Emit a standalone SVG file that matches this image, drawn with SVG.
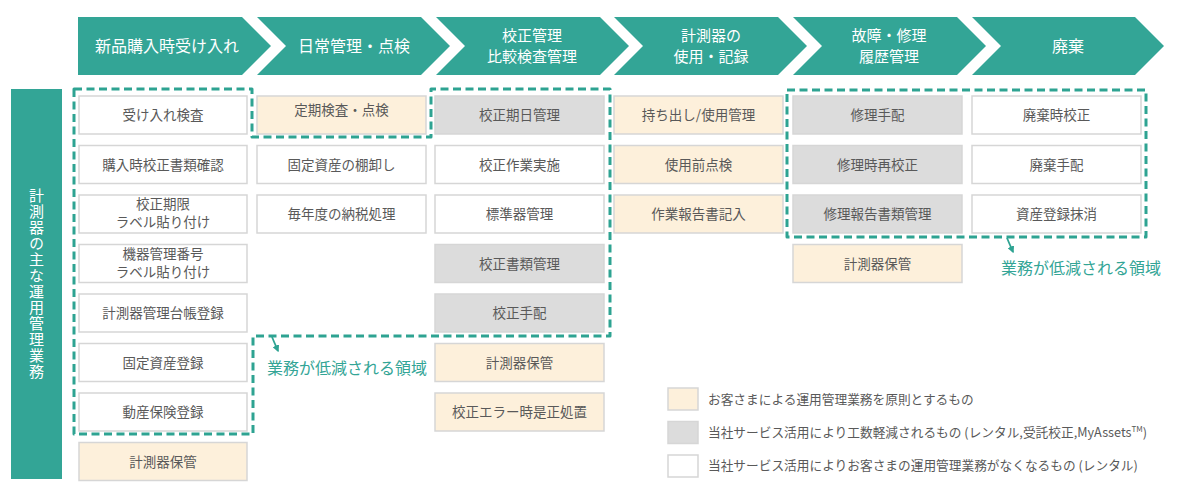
<svg xmlns="http://www.w3.org/2000/svg" width="1200" height="498" viewBox="0 0 1200 498">
<style>
.chev{fill:#33a596}
.ht{fill:#ffffff;font-family:"Noto Sans CJK JP","Noto Sans",sans-serif;font-size:16px;text-anchor:middle}
.ht2{fill:#ffffff;font-family:"Noto Sans CJK JP","Noto Sans",sans-serif;font-size:15px;text-anchor:middle}
.bx{stroke:#d6d6d6;stroke-width:1.5}
.w{fill:#ffffff}
.b{fill:#fdf0db}
.g{fill:#dcdcdc}
.bt{fill:#595959;font-family:"Noto Sans CJK JP","Noto Sans",sans-serif;font-size:13.5px;text-anchor:middle}
.dash{fill:none;stroke:#2ea392;stroke-width:3;stroke-dasharray:8 4.5;stroke-linejoin:round}
.lbl{fill:#33a596;font-family:"Noto Sans CJK JP","Noto Sans",sans-serif;font-size:16px}
.lg{fill:#595959;font-family:"Noto Sans CJK JP","Noto Sans",sans-serif;font-size:12.7px}
</style>
<defs>
<marker id="ah" viewBox="0 0 10 10" refX="8" refY="5" markerWidth="4" markerHeight="4" orient="auto">
<path d="M0,0 L10,5 L0,10 z" fill="#2ea392"/>
</marker>
</defs>
<rect width="1200" height="498" fill="#ffffff"/>

<g id="header">
<g id="h1"><polygon class="chev" points="78,17 242,17 271,46 242,75 78,75"/><text class="ht" x="167" y="51.5">新品購入時受け入れ</text></g>
<g id="h2"><polygon class="chev" points="257,17 421,17 450,46 421,75 257,75 286,46"/><text class="ht" x="354" y="51.5">日常管理・点検</text></g>
<g id="h3"><polygon class="chev" points="436,17 600,17 629,46 600,75 436,75 465,46"/><text class="ht2" x="532" y="40.5">校正管理</text><text class="ht2" x="532" y="61.5">比較検査管理</text></g>
<g id="h4"><polygon class="chev" points="614,17 778,17 807,46 778,75 614,75 643,46"/><text class="ht2" x="711" y="40.5">計測器の</text><text class="ht2" x="711" y="61.5">使用・記録</text></g>
<g id="h5"><polygon class="chev" points="793,17 957,17 986,46 957,75 793,75 822,46"/><text class="ht2" x="889" y="40.5">故障・修理</text><text class="ht2" x="889" y="61.5">履歴管理</text></g>
<g id="h6"><polygon class="chev" points="972,17 1135,17 1164,46 1135,75 972,75 1001,46"/><text class="ht" x="1068" y="51.5">廃棄</text></g>
</g>

<g id="sidebar">
<rect x="11" y="89" width="51" height="390" fill="#33a596"/>
<text x="36.5" y="284" fill="#ffffff" font-family="'Noto Sans CJK JP','Noto Sans',sans-serif" font-size="15" writing-mode="vertical-rl" text-anchor="middle" letter-spacing="1">計測器の主な運用管理業務</text>
</g>

<g id="col1">
<g id="c1r0"><rect class="bx w" x="79" y="96" width="168" height="38"/><text class="bt" x="163" y="120">受け入れ検査</text></g>
<g id="c1r1"><rect class="bx w" x="79" y="145.5" width="168" height="38"/><text class="bt" x="163" y="169.5">購入時校正書類確認</text></g>
<g id="c1r2"><rect class="bx w" x="79" y="195" width="168" height="38"/><text class="bt" x="163" y="209">校正期限</text><text class="bt" x="163" y="227">ラベル貼り付け</text></g>
<g id="c1r3"><rect class="bx w" x="79" y="244.5" width="168" height="38"/><text class="bt" x="163" y="258.5">機器管理番号</text><text class="bt" x="163" y="276.5">ラベル貼り付け</text></g>
<g id="c1r4"><rect class="bx w" x="79" y="294" width="168" height="38"/><text class="bt" x="163" y="318">計測器管理台帳登録</text></g>
<g id="c1r5"><rect class="bx w" x="79" y="343.5" width="168" height="38"/><text class="bt" x="163" y="367.5">固定資産登録</text></g>
<g id="c1r6"><rect class="bx w" x="79" y="393" width="168" height="38"/><text class="bt" x="163" y="417">動産保険登録</text></g>
<g id="c1r7"><rect class="bx b" x="79" y="442.5" width="168" height="38"/><text class="bt" x="163" y="466.5">計測器保管</text></g>
</g>

<g id="col2">
<g id="c2r0"><rect class="bx b" x="257" y="96" width="169" height="38"/><text class="bt" x="341.5" y="115">定期検査・点検</text></g>
<g id="c2r1"><rect class="bx w" x="257" y="145.5" width="169" height="38"/><text class="bt" x="341.5" y="169.5">固定資産の棚卸し</text></g>
<g id="c2r2"><rect class="bx w" x="257" y="195" width="169" height="38"/><text class="bt" x="341.5" y="219">毎年度の納税処理</text></g>
</g>

<g id="col3">
<g id="c3r0"><rect class="bx g" x="435" y="96" width="169" height="38"/><text class="bt" x="519.5" y="120">校正期日管理</text></g>
<g id="c3r1"><rect class="bx w" x="435" y="145.5" width="169" height="38"/><text class="bt" x="519.5" y="169.5">校正作業実施</text></g>
<g id="c3r2"><rect class="bx w" x="435" y="195" width="169" height="38"/><text class="bt" x="519.5" y="219">標準器管理</text></g>
<g id="c3r3"><rect class="bx g" x="435" y="244.5" width="169" height="38"/><text class="bt" x="519.5" y="268.5">校正書類管理</text></g>
<g id="c3r4"><rect class="bx g" x="435" y="294" width="169" height="38"/><text class="bt" x="519.5" y="318">校正手配</text></g>
<g id="c3r5"><rect class="bx b" x="435" y="343.5" width="169" height="38"/><text class="bt" x="519.5" y="367.5">計測器保管</text></g>
<g id="c3r6"><rect class="bx b" x="435" y="393" width="169" height="38"/><text class="bt" x="519.5" y="417">校正エラー時是正処置</text></g>
</g>

<g id="col4">
<g id="c4r0"><rect class="bx b" x="614" y="96" width="169" height="38"/><text class="bt" x="698.5" y="120">持ち出し/使用管理</text></g>
<g id="c4r1"><rect class="bx b" x="614" y="145.5" width="169" height="38"/><text class="bt" x="698.5" y="169.5">使用前点検</text></g>
<g id="c4r2"><rect class="bx b" x="614" y="195" width="169" height="38"/><text class="bt" x="698.5" y="219">作業報告書記入</text></g>
</g>

<g id="col5">
<g id="c5r0"><rect class="bx g" x="793" y="96" width="169" height="38"/><text class="bt" x="877.5" y="120">修理手配</text></g>
<g id="c5r1"><rect class="bx g" x="793" y="145.5" width="169" height="38"/><text class="bt" x="877.5" y="169.5">修理時再校正</text></g>
<g id="c5r2"><rect class="bx g" x="793" y="195" width="169" height="38"/><text class="bt" x="877.5" y="219">修理報告書類管理</text></g>
<g id="c5r3"><rect class="bx b" x="793" y="244.5" width="169" height="38"/><text class="bt" x="877.5" y="268.5">計測器保管</text></g>
</g>

<g id="col6">
<g id="c6r0"><rect class="bx w" x="972" y="96" width="169" height="38"/><text class="bt" x="1056.5" y="120">廃棄時校正</text></g>
<g id="c6r1"><rect class="bx w" x="972" y="145.5" width="169" height="38"/><text class="bt" x="1056.5" y="169.5">廃棄手配</text></g>
<g id="c6r2"><rect class="bx w" x="972" y="195" width="169" height="38"/><text class="bt" x="1056.5" y="219">資産登録抹消</text></g>
</g>

<g id="regions">
<path class="dash" d="M74,89 H252 V137 H431 V89 H610 V336 H253 V434 H74 Z"/>
<path class="dash" d="M787,90 H1146 V237 H787 Z"/>
</g>

<g id="connectors">
<line x1="272" y1="337" x2="278" y2="351" stroke="#2ea392" stroke-width="1.8" marker-end="url(#ah)"/>
<line x1="1007" y1="238" x2="1013" y2="252" stroke="#2ea392" stroke-width="1.8" marker-end="url(#ah)"/>
</g>

<g id="labels">
<text class="lbl" x="267" y="374">業務が低減される領域</text>
<text class="lbl" x="1001" y="274">業務が低減される領域</text>
</g>

<g id="legend">
<rect class="bx b" x="668" y="388" width="30" height="22"/>
<text class="lg" x="708" y="403.5">お客さまによる運用管理業務を原則とするもの</text>
<rect class="bx g" x="668" y="421.5" width="30" height="22"/>
<text class="lg" x="708" y="437">当社サービス活用により工数軽減されるもの (レンタル,受託校正,MyAssets<tspan font-size="8" dy="-5">TM</tspan><tspan dy="5">)</tspan></text>
<rect class="bx w" x="668" y="455" width="30" height="22"/>
<text class="lg" x="708" y="470">当社サービス活用によりお客さまの運用管理業務がなくなるもの (レンタル)</text>
</g>
</svg>
